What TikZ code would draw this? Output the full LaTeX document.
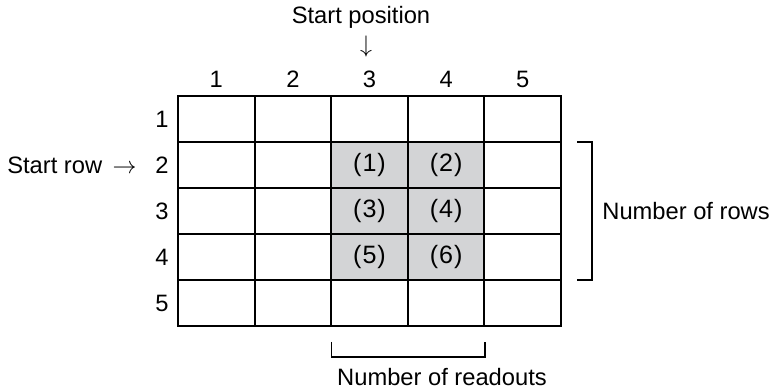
\documentclass[tikz,border=0pt]{standalone}
\usepackage{fontspec}
\setmainfont{Liberation Sans}
\definecolor{cellgray}{HTML}{D3D4D6}

\tikzset{
  cell/.style={draw,line width=1bp,minimum width=38.3bp,minimum height=23bp,inner sep=0pt},
  marked/.style={cell,fill=cellgray},
  lbl/.style={inner sep=0pt,font=\fontsize{11.9}{14}\selectfont},
  big/.style={inner sep=0pt,font=\fontsize{12.6}{15}\selectfont},
  brace/.style={line width=0.7bp}
}

\begin{document}
\begin{tikzpicture}[x=0.5bp,y=-0.5bp]
      \useasboundingbox (0,0) rectangle (773,389);

      % plain cells
      \foreach \r in {1,...,5}
        \foreach \c in {1,...,5}
          \node[cell,lbl] (c\r\c) at ({178+76.6*(\c-0.5)},{96+46*(\r-0.5)}) {};

      % cells that are read out
      \foreach \r/\c/\n in {2/3/1, 2/4/2, 3/3/3, 3/4/4, 4/3/5, 4/4/6}
        \node[marked,big] (c\r\c) at ({178+76.6*(\c-0.5)},{96+46*(\r-0.5)}) {(\kern0.5bp\n\kern0.5bp)};

      % column and row numbers
      \foreach \c in {1,...,5}
        \node[lbl,anchor=base] (col\c) at ({178+76.6*(\c-0.5)},88) {\c};
      \foreach \r in {1,...,5}
        \node[lbl] (row\r) at (162,{96+46*(\r-0.5)}) {\r};

      \node[lbl] (start) at (361,17) {Start position};
      \node[lbl] (down) at (366,47) {$\downarrow$};
      \node[lbl,anchor=east] (srow) at (137,165) {Start row \,$\rightarrow$};

      % brackets
      \coordinate (rt) at (592,142);
      \coordinate (rb) at (592,280);
      \draw[brace] ([xshift=-7.5bp]rt) -- (rt) -- (rb) -- ([xshift=-7.5bp]rb);
      \node[lbl,anchor=west] (nrows) at (602,211) {Number of rows};

      \coordinate (bl) at (331.7,357);
      \coordinate (br) at (485,357);
      \draw[brace] ([yshift=7.5bp]bl) -- (bl) -- (br) -- ([yshift=7.5bp]br);
      \node[lbl] (nread) at (442,377) {Number of readouts};
    \end{tikzpicture}
\end{document}
